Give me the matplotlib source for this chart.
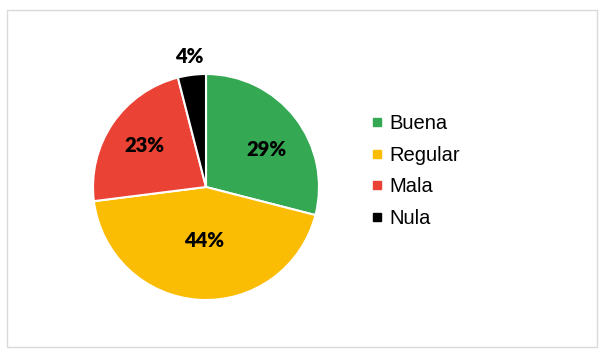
import matplotlib
matplotlib.use("Agg")
import matplotlib.pyplot as plt
from matplotlib.lines import Line2D
from matplotlib.patches import Rectangle
import numpy as np

categories = ["Buena", "Regular", "Mala", "Nula"]
values = [29, 44, 23, 4]
labels = ["29%", "44%", "23%", "4%"]
colors = ["#34A853", "#FBBC04", "#EA4335", "#000000"]
label_dist = [0.625, 0.47, 0.655, 1.16]
label_angle_shift = [-6, 1, 0, 0]

fig = plt.figure(figsize=(6.02, 3.59), dpi=100)
fig.patch.set_facecolor("white")
# outer frame
fig.add_artist(Rectangle((7/602, 1 - 347/359), 590/602, 337/359, transform=fig.transFigure,
                         fill=False, edgecolor="#D9D9D9", linewidth=1.0))

ax = fig.add_axes([93/602, (359-300)/359, 226/602, 226/359])
wedges, _ = ax.pie(values, colors=colors, startangle=90, counterclock=False,
                   wedgeprops=dict(edgecolor="white", linewidth=1.5))
ax.set_aspect("equal")
ax.set_xlim(-1.0, 1.0)
ax.set_ylim(-1.0, 1.0)

for w, lab, d, s in zip(wedges, labels, label_dist, label_angle_shift):
    ang = np.deg2rad((w.theta1 + w.theta2) / 2 + s)
    ax.text(d * np.cos(ang), d * np.sin(ang), lab, ha="center", va="center",
            fontsize=14.5, fontweight="heavy", family=["Lato", "DejaVu Sans"], color="black")

handles = [Line2D([], [], marker="s", linestyle="none", markersize=5.5,
                  markerfacecolor=c, markeredgecolor=c) for c in colors]
leg = fig.legend(handles, categories, loc="center left", bbox_to_anchor=(353/602, 1 - 171/359),
                 frameon=False, handlelength=0.6, handletextpad=0.3, labelspacing=0.63,
                 prop=dict(family="Liberation Sans", size=14.5))

fig.savefig("out.png", dpi=100)
